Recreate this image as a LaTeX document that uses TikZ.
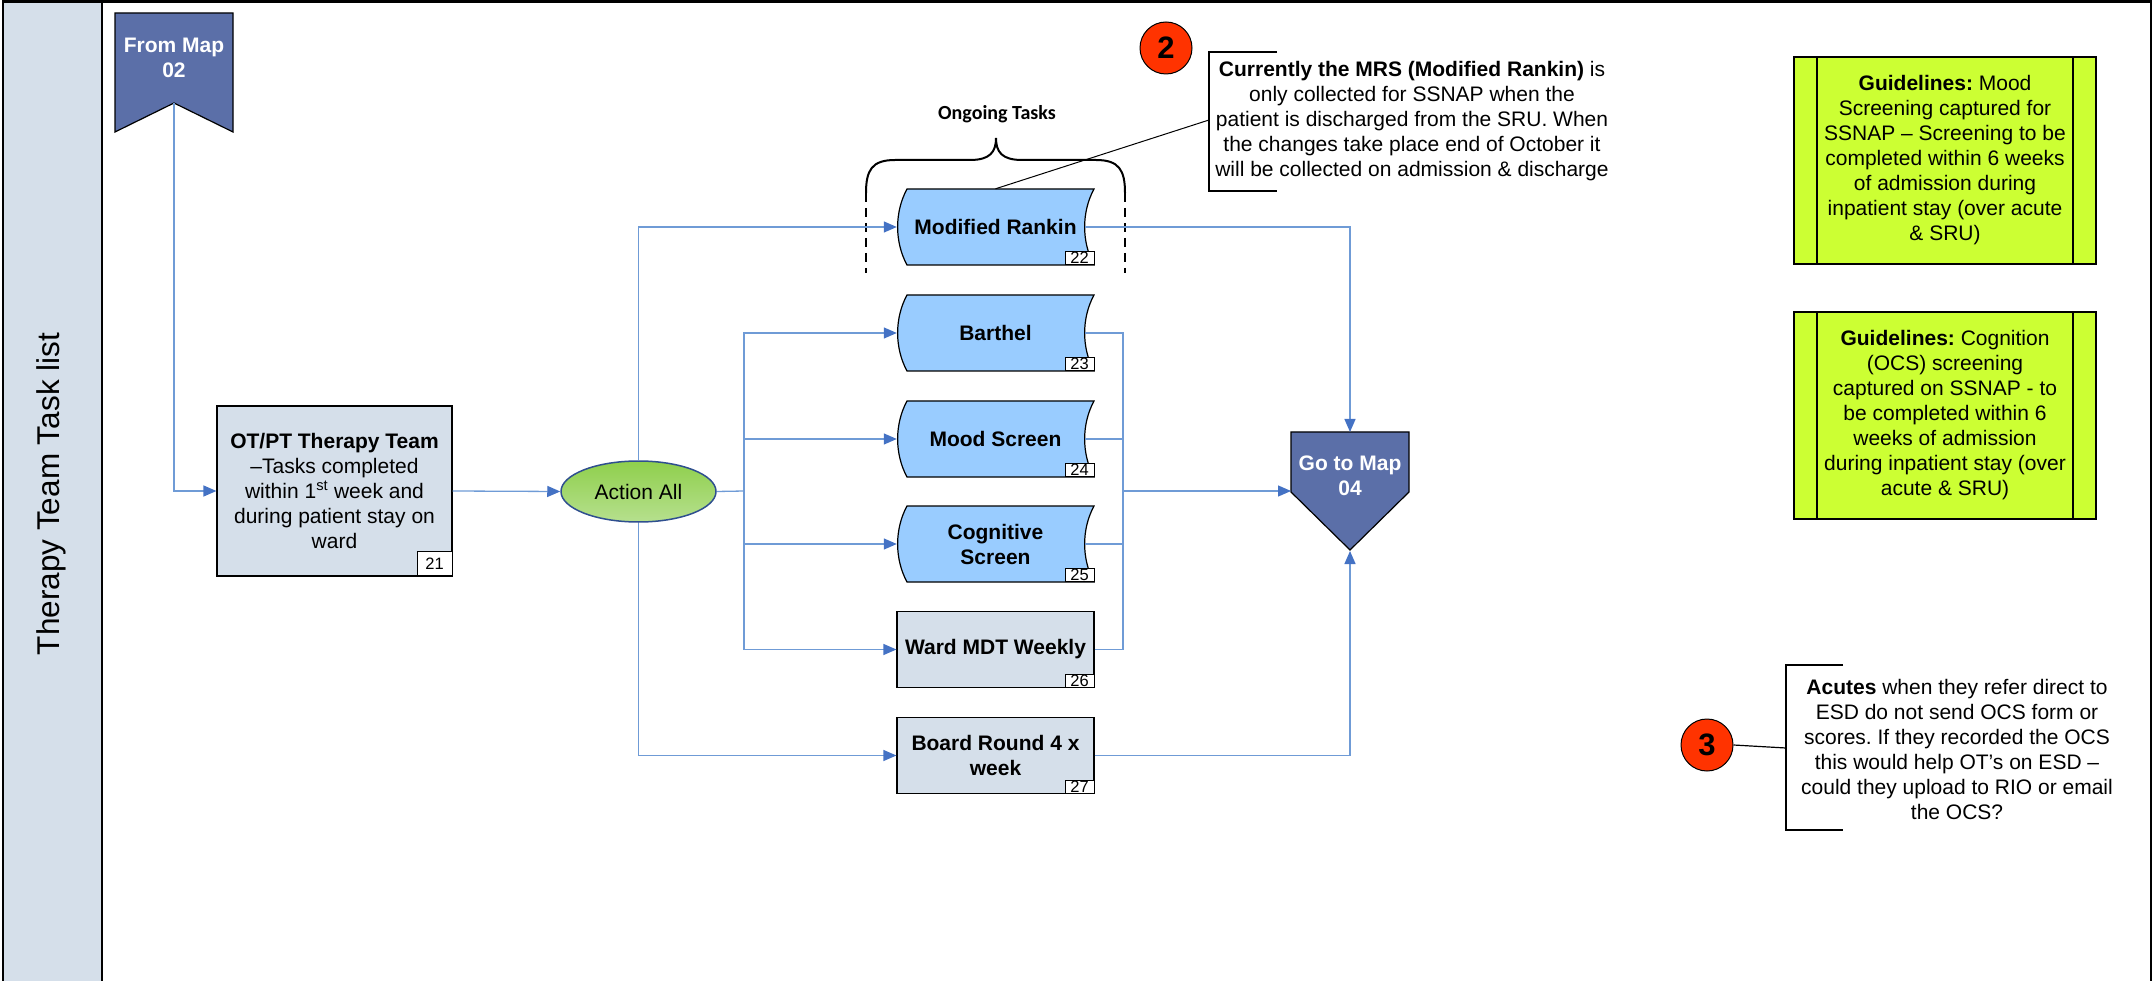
\documentclass[tikz,border=0pt]{standalone}
\usepackage{fontspec}
\setmainfont{Liberation Sans}
\newfontfamily\carlito{Carlito}
\usetikzlibrary{arrows.meta,shapes.geometric}
\frenchspacing
\definecolor{lanebg}{HTML}{D5DFEA}
\definecolor{taskblue}{HTML}{99CCFF}
\definecolor{mapc}{HTML}{5B6FA8}
\definecolor{linec}{HTML}{6F9BD6}
\definecolor{arrowc}{HTML}{4472C4}
\definecolor{limec}{HTML}{CCFF33}
\definecolor{redc}{HTML}{FF3300}
\definecolor{ellb}{HTML}{2F4F8F}
\definecolor{greentop}{HTML}{8FCF4C}
\definecolor{greenbot}{HTML}{B6E08E}
\tikzset{
  base/.style={font=\fontsize{21}{25}\selectfont},
  plain/.style={draw=linec, line width=1.3pt},
  conn/.style={plain, -{Triangle[length=13pt,width=11pt,color=arrowc]}},
  taskbox/.style={draw=black, line width=1.2pt, fill=lanebg, minimum width=197pt, minimum height=76pt, align=center, font=\fontsize{21}{25}\selectfont\bfseries},
  sdnode/.style={draw=none, minimum width=197pt, minimum height=76pt, align=center, font=\fontsize{21}{25}\selectfont\bfseries},
  numbox/.style={draw=black, line width=0.8pt, fill=white, minimum width=29pt, minimum height=13pt, inner sep=0pt, font=\fontsize{16.5}{16.5}\selectfont},
  maptext/.style={text=white, align=center, font=\fontsize{21}{25}\selectfont\bfseries},
  note/.style={align=center, font=\fontsize{21}{25}\selectfont, inner sep=0pt},
  badge/.style={circle, draw=black, line width=1pt, fill=redc, minimum size=52pt, inner sep=0pt, font=\fontsize{31}{31}\selectfont\bfseries},
  bracketline/.style={draw=black, line width=1.2pt},
}
\newcommand{\sdshape}[2]{%
  \filldraw[fill=taskblue, draw=black, line width=1.2pt]
    (#1-88.5,#2-38) -- (#1+98.5,#2-38)
    .. controls (#1+86,#2-15) and (#1+86,#2+15) .. (#1+98.5,#2+38)
    -- (#1-88.5,#2+38)
    .. controls (#1-101,#2+15) and (#1-101,#2-15) .. (#1-88.5,#2-38) -- cycle;}
\begin{document}
\begin{tikzpicture}[x=1pt,y=-1pt]
\useasboundingbox (0,0) rectangle (2153,981);
\begin{scope}
\clip (0,0) rectangle (2153,981);
% frame and lane header
\filldraw[fill=lanebg, draw=black, line width=2.5pt] (3,1.5) rectangle (102,990);
\draw[black, line width=2.5pt] (3,1.5) rectangle (2151,990);
\end{scope}
\node[rotate=90, font=\fontsize{31.5}{31.5}\selectfont] (lane) at (51,494) {Therapy Team Task list};

% From Map 02
\filldraw[fill=mapc, draw=black, line width=1.2pt] (115,13) -- (233,13) -- (233,132) -- (174,103) -- (115,132) -- cycle;
\coordinate (fromtip) at (174,103);
\node[maptext] (frommap) at (174,58) {From Map\\02};

% OT/PT box
\node[taskbox, font=\fontsize{21}{25}\selectfont, minimum width=235pt, minimum height=170pt] (otpt) at (334.5,491)
  {\textbf{OT/PT Therapy Team}\\–Tasks completed\\within 1\textsuperscript{st} week and\\during patient stay on\\ward};
\node[numbox, minimum width=35pt, minimum height=24pt] (n21) at (434.5,563.5) {21};

% Action All
\node[ellipse, draw=ellb, line width=1.5pt, top color=greentop, bottom color=greenbot, minimum width=155pt, minimum height=61pt, font=\fontsize{21}{25}\selectfont] (act) at (638.5,491.5) {Action All};

% stored-data tasks
\sdshape{995.5}{227}
\sdshape{995.5}{333}
\sdshape{995.5}{439}
\sdshape{995.5}{544}
\node[sdnode] (mr) at (995.5,227) {Modified Rankin};
\node[sdnode] (bar) at (995.5,333) {Barthel};
\node[sdnode] (mood) at (995.5,439) {Mood Screen};
\node[sdnode] (cog) at (995.5,544) {Cognitive\\Screen};
\node[taskbox] (ward) at (995.5,649.5) {Ward MDT Weekly};
\node[taskbox] (board) at (995.5,755.5) {Board Round 4 x\\week};
\node[numbox] (n22) at (1079.5,258) {22};
\node[numbox] (n23) at (1079.5,364) {23};
\node[numbox] (n24) at (1079.5,470) {24};
\node[numbox] (n25) at (1079.5,575) {25};
\node[numbox] (n26) at (1079.5,681) {26};
\node[numbox] (n27) at (1079.5,787) {27};

% Go to Map 04
\filldraw[fill=mapc, draw=black, line width=1.2pt] (1291,432) -- (1409,432) -- (1409,492) -- (1350,550) -- (1291,492) -- cycle;
\coordinate (gotoT) at (1350,432);
\coordinate (gotoL) at (1291,491);
\coordinate (gotoB) at (1350,551);
\node[maptext] (goto) at (1350,476) {Go to Map\\04};

% Ongoing tasks brace
\node[font=\carlito\bfseries\fontsize{20}{20}\selectfont] (ongo) at (997,114) {Ongoing Tasks};
\coordinate (brL) at (866,193);
\coordinate (brR) at (1125,193);
\draw[black, line width=2pt] (brL) .. controls (866,170) and (872,160) .. (895,160) -- (970,160)
  .. controls (990,160) and (996,152) .. (996,138)
  .. controls (996,152) and (1002,160) .. (1022,160) -- (1096,160)
  .. controls (1119,160) and (1125,170) .. (brR);
\draw[black, line width=2pt, dash pattern=on 9pt off 6pt] (brL) -- (866,273);
\draw[black, line width=2pt, dash pattern=on 9pt off 6pt] (brR) -- (1125,273);

% connectors
\draw[conn] (fromtip) |- (otpt.west);
\draw[conn] (otpt.east) -- (act.west);
\draw[conn] (act.north) |- (mr.west);
\draw[conn] (act.south) |- (board.west);
\coordinate (splitL) at (744,491);
\draw[plain] (act.east) -- (splitL);
\draw[conn] (splitL) |- (bar.west);
\draw[conn] (splitL) |- (mood.west);
\draw[conn] (splitL) |- (cog.west);
\draw[conn] (splitL) |- (ward.west);
\coordinate (mergeR) at (1123,491);
\draw[plain] ([xshift=-9pt]bar.east) -| (mergeR);
\draw[plain] ([xshift=-9pt]mood.east) -| (mergeR);
\draw[plain] ([xshift=-9pt]cog.east) -| (mergeR);
\draw[plain] (ward.east) -| (mergeR);
\draw[conn] (mergeR) -- (gotoL);
\draw[conn] ([xshift=-9pt]mr.east) -| (gotoT);
\draw[conn] (board.east) -| (gotoB);

% callout 2
\node[badge] (b2) at (1166,48) {2};
\coordinate (c2top) at (1277,52);
\coordinate (c2bot) at (1277,191);
\coordinate (c2mid) at (1209,120);
\draw[bracketline] (c2top) -- (1209,52) -- (1209,191) -- (c2bot);
\draw[black, line width=1pt] (c2mid) -- (mr.north);
\node[note] (note2) at (1412,121)
  {\textbf{Currently the MRS (Modified Rankin)} is\\only collected for SSNAP when the\\patient is discharged from the SRU. When\\the changes take place end of October it\\will be collected on admission \& discharge};

% guidelines
\filldraw[fill=limec, draw=black, line width=1.2pt] (1794,57) rectangle (2096,264);
\draw[black, line width=1.2pt] (1817,57) -- (1817,264) (2073,57) -- (2073,264);
\node[note] (g1) at (1945,160)
  {\textbf{Guidelines:} Mood\\Screening captured for\\SSNAP – Screening to be\\completed within 6 weeks\\of admission during\\inpatient stay (over acute\\\& SRU)};
\filldraw[fill=limec, draw=black, line width=1.2pt] (1794,312) rectangle (2096,519);
\draw[black, line width=1.2pt] (1817,312) -- (1817,519) (2073,312) -- (2073,519);
\node[note] (g2) at (1945,415)
  {\textbf{Guidelines:} Cognition\\(OCS) screening\\captured on SSNAP - to\\be completed within 6\\weeks of admission\\during inpatient stay (over\\acute \& SRU)};

% callout 3
\node[badge] (b3) at (1707,745) {3};
\coordinate (c3mid) at (1786,748);
\draw[bracketline] (1843,665) -- (1786,665) -- (1786,830) -- (1843,830);
\draw[black, line width=1.2pt] (b3.east) -- (c3mid);
\node[note] (note3) at (1957,749)
  {\textbf{Acutes} when they refer direct to\\ESD do not send OCS form or\\scores. If they recorded the OCS\\this would help OT’s on ESD –\\could they upload to RIO or email\\the OCS?};
\end{tikzpicture}
\end{document}
